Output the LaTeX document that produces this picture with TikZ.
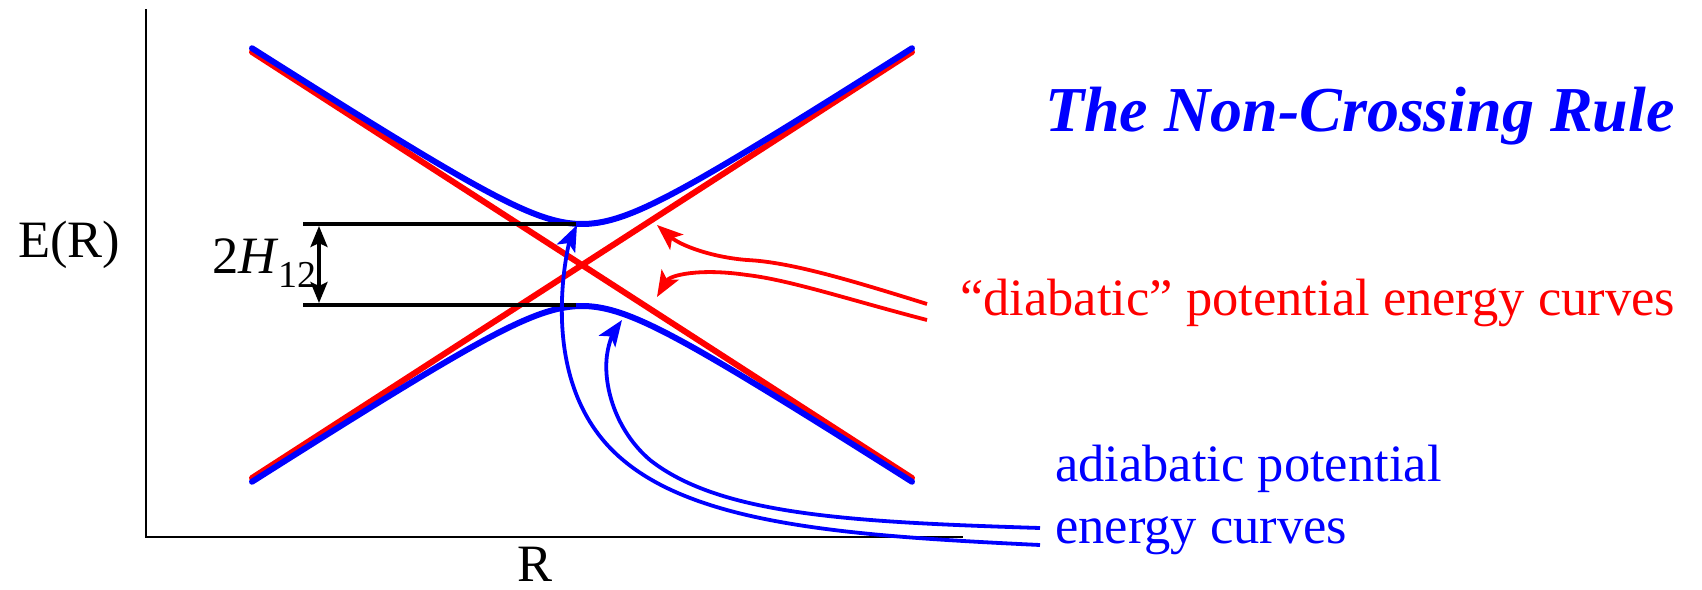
\documentclass[tikz,border=0pt]{standalone}
\usepackage{fontspec}
\setmainfont{Liberation Serif}
\usetikzlibrary{arrows.meta}
\begin{document}
\begin{tikzpicture}[x=1pt,y=-1pt,
  curve/.style={line width=6pt,line cap=round,line join=round},
  ptr/.style={line width=3.8pt,-{Stealth[length=26pt,width=20pt,inset=6pt]}},
  dim/.style={line width=3.5pt,{Stealth[length=21pt,width=17pt,inset=4pt]}-{Stealth[length=21pt,width=17pt,inset=4pt]}},
  lab/.style={inner sep=0pt,anchor=base west},
  bigfont/.style={font=\fontsize{52.5}{62}\selectfont},
]
\useasboundingbox (0,0) rectangle (1702,589);
% axes
\coordinate (O) at (146,537);
\coordinate (Ytop) at (146,9);
\coordinate (Xend) at (963,537);
\draw[line width=2.5pt] (Ytop) -- (O) -- (Xend);
% diabatic curves
\coordinate (dA0) at (252,52);
\coordinate (dA1) at (912,478);
\coordinate (dB0) at (252,478);
\coordinate (dB1) at (912,52);
\draw[red,curve] (dA0) -- (dA1);
\draw[red,curve] (dB0) -- (dB1);
% adiabatic curves
\draw[blue,curve,domain=252:912,samples=150] plot (\x,{265-10*veclen(0.0645*(\x-582),4.1)});
\draw[blue,curve,domain=252:912,samples=150] plot (\x,{265+10*veclen(0.0645*(\x-582),4.1)});
% gap markers
\coordinate (hu0) at (303,224); \coordinate (hu1) at (576,224);
\coordinate (hl0) at (303,305); \coordinate (hl1) at (576,305);
\draw[line width=3.5pt] (hu0) -- (hu1);
\draw[line width=3.5pt] (hl0) -- (hl1);
\coordinate (da0) at (319,226); \coordinate (da1) at (319,303);
\draw[dim] (da0) -- (da1);
% labels
\node[lab,bigfont] (ER) at (18,257) {E(R)};
\node[lab,bigfont] (Rl) at (517,581) {R};
\node[lab,bigfont] (H12) at (212,273) {2\textit{H}\raisebox{-14pt}{\fontsize{38}{44}\selectfont 12}};
\node[lab,blue,font=\fontsize{64}{74}\selectfont\bfseries\itshape] (title) at (1045,131) {The Non-Crossing Rule};
\node[lab,red,bigfont] (dia) at (960,315) {“diabatic” potential energy curves};
\node[lab,blue,bigfont] (adi1) at (1055,481) {adiabatic potential};
\node[lab,blue,bigfont] (adi2) at (1055,543) {energy curves};
% red pointers
\coordinate (r1s) at (927,304); \coordinate (r1t) at (657,225);
\coordinate (r2s) at (927,320); \coordinate (r2t) at (657,297);
\draw[red,ptr] (r1s) .. controls (850,280) and (790,262) .. (747,260) .. controls (710,257) and (680,245) .. (r1t);
\draw[red,ptr] (r2s) .. controls (850,300) and (790,280) .. (747,275) .. controls (700,268) and (670,275) .. (r2t);
% blue pointers
\coordinate (b1s) at (1040,545); \coordinate (b1t) at (577,225);
\coordinate (b2s) at (1040,528); \coordinate (b2t) at (622,320);
\draw[blue,ptr] (b1s) .. controls (850,536) and (700,525) .. (623,460) .. controls (575,420) and (560,360) .. (562,300) .. controls (563,265) and (570,240) .. (b1t);
\draw[blue,ptr] (b2s) .. controls (850,522) and (720,515) .. (650,460) .. controls (615,430) and (603,385) .. (607,355) .. controls (609,340) and (615,330) .. (b2t);
\end{tikzpicture}
\end{document}
